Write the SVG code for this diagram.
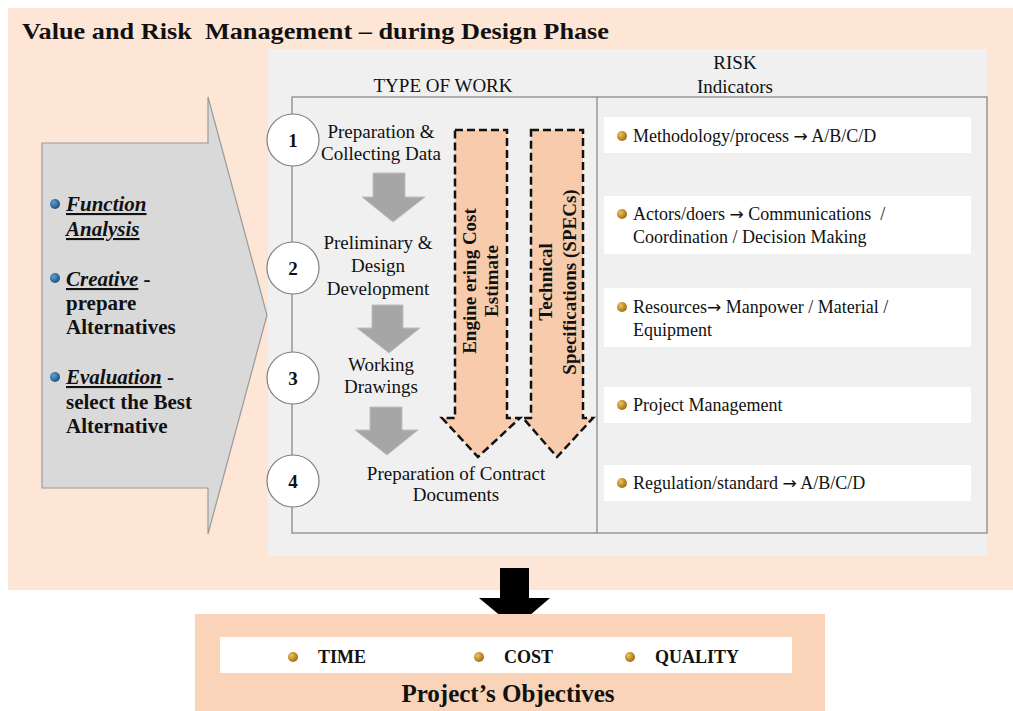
<svg xmlns="http://www.w3.org/2000/svg" width="1013" height="711" viewBox="0 0 1013 711">
<defs>
<radialGradient id="gold" cx="0.35" cy="0.35" r="0.7">
<stop offset="0" stop-color="#f2c35a"/><stop offset="1" stop-color="#9a6a12"/>
</radialGradient>
<radialGradient id="blue" cx="0.35" cy="0.35" r="0.7">
<stop offset="0" stop-color="#5a9fd4"/><stop offset="1" stop-color="#1f4e79"/>
</radialGradient>
<style>
.serif{font-family:"Liberation Serif","Times New Roman",serif;fill:#111;white-space:pre}
.b{font-weight:bold}
.step{font-size:19px;text-anchor:middle}
.risk{font-size:18px}
.arr{font-family:"DejaVu Sans",sans-serif;font-size:17px}
.left{font-size:21px;font-weight:bold}
.num{font-size:19px;font-weight:bold;text-anchor:middle}
.circ{fill:#fff;stroke:#7f7f7f;stroke-width:1.2}
.garrow{fill:#a6a6a6;stroke:#bfbfbf;stroke-width:1}
.darrow{fill:#f8cbad;stroke:#111;stroke-width:2.5;stroke-dasharray:8 4}
.wbox{fill:#fff}
.vt{font-size:19px;font-weight:bold;text-anchor:middle}
.hdr{font-size:19px;text-anchor:middle}
</style>
</defs>
<rect width="1013" height="711" fill="#fff"/>
<rect x="8" y="8" width="1005" height="582" fill="#fde6d5"/>
<text class="serif b" x="22" y="39" font-size="24" textLength="587" lengthAdjust="spacingAndGlyphs">Value and Risk  Management – during Design Phase</text>
<rect x="268" y="49" width="719" height="507" fill="#f0f0f0"/>
<text class="serif hdr" x="443" y="92">TYPE OF WORK</text>
<text class="serif hdr" x="735" y="69">RISK</text>
<text class="serif hdr" x="735" y="93">Indicators</text>
<rect x="292" y="97" width="695" height="436" fill="none" stroke="#808080" stroke-width="1.2"/>
<line x1="597" y1="97" x2="597" y2="533" stroke="#808080" stroke-width="1.2"/>

<g id="left-arrow">
<path d="M42 143 H208 V97 L267 315 L208 534 V488 H42 Z" fill="#d9d9d9" stroke="#9a9a9a" stroke-width="1.2"/>
<circle cx="55" cy="204" r="5" fill="url(#blue)"/>
<text class="serif left" x="66" y="211"><tspan font-style="italic" text-decoration="underline">Function</tspan></text>
<text class="serif left" x="66" y="236"><tspan font-style="italic" text-decoration="underline">Analysis</tspan></text>
<circle cx="55" cy="278" r="5" fill="url(#blue)"/>
<text class="serif left" x="66" y="286"><tspan font-style="italic" text-decoration="underline">Creative</tspan> -</text>
<text class="serif left" x="66" y="310">prepare</text>
<text class="serif left" x="66" y="334">Alternatives</text>
<circle cx="55" cy="377" r="5" fill="url(#blue)"/>
<text class="serif left" x="66" y="384"><tspan font-style="italic" text-decoration="underline">Evaluation</tspan> -</text>
<text class="serif left" x="66" y="409">select the Best</text>
<text class="serif left" x="66" y="433">Alternative</text>
</g>

<g id="connectors">
<path class="garrow" d="M373 173 H405 V197 H425 L393 222 L362 197 H373 Z"/>
<path class="garrow" d="M372 305 H403 V328 H420 L389 353 L357 328 H372 Z"/>
<path class="garrow" d="M370 407 H402 V430 H418 L387 455 L355 430 H370 Z"/>
<path d="M500 568 H529 V598 H550 L515 628 L479 598 H500 Z" fill="#000"/>
</g>

<g id="step1">
<circle class="circ" cx="293" cy="140" r="26"/>
<text class="serif num" x="293" y="147">1</text>
<text class="serif step" x="381" y="138">Preparation &amp;</text>
<text class="serif step" x="381" y="160">Collecting Data</text>
</g>
<g id="step2">
<circle class="circ" cx="293" cy="268" r="26"/>
<text class="serif num" x="293" y="275">2</text>
<text class="serif step" x="378" y="249">Preliminary &amp;</text>
<text class="serif step" x="378" y="272">Design</text>
<text class="serif step" x="378" y="295">Development</text>
</g>
<g id="step3">
<circle class="circ" cx="293" cy="378" r="26"/>
<text class="serif num" x="293" y="385">3</text>
<text class="serif step" x="381" y="371">Working</text>
<text class="serif step" x="381" y="393">Drawings</text>
</g>
<g id="step4">
<circle class="circ" cx="293" cy="481" r="26"/>
<text class="serif num" x="293" y="488">4</text>
<text class="serif step" x="456" y="480">Preparation of Contract</text>
<text class="serif step" x="456" y="501">Documents</text>
</g>

<g id="cost-estimate">
<path class="darrow" d="M455 130 H507 V418 H520 L478 457 L442 418 H455 Z"/>
<text class="serif vt" transform="translate(476 281) rotate(-90)">Engine ering Cost</text>
<text class="serif vt" transform="translate(498 281) rotate(-90)">Estimate</text>
</g>
<g id="specs">
<path class="darrow" d="M531 130 H583 V418 H593 L557 457 L523 418 H531 Z"/>
<text class="serif vt" transform="translate(552 282) rotate(-90)">Technical</text>
<text class="serif vt" transform="translate(576 282) rotate(-90)">Specifications (SPECs)</text>
</g>

<g id="risk1">
<rect class="wbox" x="604" y="117" width="367" height="36"/>
<circle cx="622" cy="136" r="5" fill="url(#gold)"/>
<text class="serif risk" x="633" y="142">Methodology/process <tspan class="arr">→</tspan> A/B/C/D</text>
</g>
<g id="risk2">
<rect class="wbox" x="604" y="196" width="367" height="58"/>
<circle cx="622" cy="214" r="5" fill="url(#gold)"/>
<text class="serif risk" x="633" y="220">Actors/doers <tspan class="arr">→</tspan> Communications  /</text>
<text class="serif risk" x="633" y="243">Coordination / Decision Making</text>
</g>
<g id="risk3">
<rect class="wbox" x="604" y="288" width="367" height="59"/>
<circle cx="622" cy="307" r="5" fill="url(#gold)"/>
<text class="serif risk" x="633" y="313">Resources<tspan class="arr">→</tspan> Manpower / Material /</text>
<text class="serif risk" x="633" y="336">Equipment</text>
</g>
<g id="risk4">
<rect class="wbox" x="604" y="387" width="367" height="36"/>
<circle cx="622" cy="405" r="5" fill="url(#gold)"/>
<text class="serif risk" x="633" y="411">Project Management</text>
</g>
<g id="risk5">
<rect class="wbox" x="604" y="465" width="367" height="36"/>
<circle cx="622" cy="483" r="5" fill="url(#gold)"/>
<text class="serif risk" x="633" y="489">Regulation/standard <tspan class="arr">→</tspan> A/B/C/D</text>
</g>

<g id="objectives">
<rect x="195" y="614" width="630" height="97" fill="#fad4b9"/>
<rect x="220" y="637" width="572" height="36" fill="#fff"/>
<circle cx="293" cy="657" r="5" fill="url(#gold)"/>
<text class="serif b" x="318" y="663" font-size="18">TIME</text>
<circle cx="479" cy="657" r="5" fill="url(#gold)"/>
<text class="serif b" x="504" y="663" font-size="18">COST</text>
<circle cx="630" cy="657" r="5" fill="url(#gold)"/>
<text class="serif b" x="655" y="663" font-size="18">QUALITY</text>
<text class="serif b" x="508" y="702" font-size="25" text-anchor="middle">Project’s Objectives</text>
</g>
</svg>
